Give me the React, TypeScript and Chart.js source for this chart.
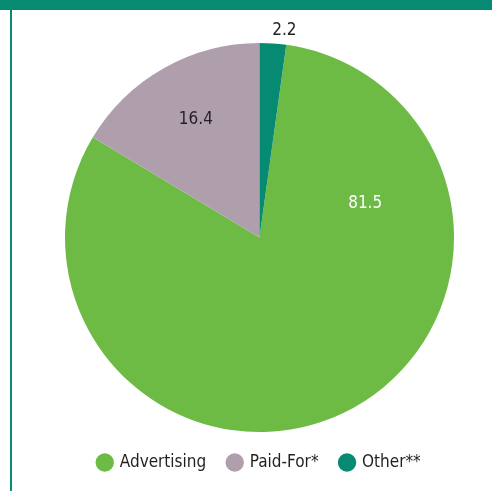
import React, { useEffect, useRef } from "react";
import { Chart, registerables } from "chart.js";

Chart.register(...registerables);

const categories = ["Advertising", "Paid-For*", "Other**"];
const values = [81.5, 16.4, 2.2];
const valueLabels = ["81.5", "16.4", "2.2"];
const colors = ["#6dbb45", "#af9fad", "#078a72"];
const labelColors = ["#ffffff", "#231f20", "#231f20"];
// label placement inside each arc: fraction along the arc, fraction of radius
const labelAlong = [0.22, 0.52, 0.87];
const labelRadius = [0.57, 0.69, 1.07];

const FONT = "'Liberation Sans Narrow', 'DejaVu Sans Condensed', 'Liberation Sans', sans-serif";

const total = values.reduce((a, b) => a + b, 0);
const startRotation = (values[2] / total) * 360;

const labelPlugin = {
  id: "sliceLabels",
  afterDatasetsDraw(chart: any) {
    const meta = chart.getDatasetMeta(0);
    const ctx = chart.ctx;
    ctx.save();
    ctx.font = `17px ${FONT}`;
    ctx.textAlign = "center";
    ctx.textBaseline = "middle";
    meta.data.forEach((arc: any, i: number) => {
      const { x, y, startAngle, endAngle, outerRadius } = arc.getProps(
        ["x", "y", "startAngle", "endAngle", "outerRadius"],
        true
      );
      const a = startAngle + (endAngle - startAngle) * labelAlong[i];
      const r = outerRadius * labelRadius[i];
      ctx.fillStyle = labelColors[i];
      ctx.fillText(valueLabels[i], x + Math.cos(a) * r, y + Math.sin(a) * r);
    });
    ctx.restore();
  },
};

export default function App() {
  const ref = useRef<HTMLCanvasElement | null>(null);
  useEffect(() => {
    if (!ref.current) return;
    const chart = new Chart(ref.current, {
      type: "pie",
      data: {
        labels: categories,
        datasets: [
          {
            data: values,
            backgroundColor: colors,
            borderWidth: 0,
          },
        ],
      },
      options: {
        animation: false,
        responsive: false,
        rotation: startRotation,
        layout: { padding: { top: 43, left: 27, right: 0, bottom: 10 } },
        plugins: {
          tooltip: { enabled: false },
          legend: {
            position: "bottom",
            labels: {
              usePointStyle: true,
              pointStyle: "circle",
              boxWidth: 13,
              boxHeight: 13,
              padding: 22,
              color: "#231f20",
              font: { size: 17, family: FONT },
            },
          },
        },
      },
      plugins: [labelPlugin],
    });
    return () => chart.destroy();
  }, []);
  return (
    <div style={{ position: "fixed", left: 0, top: 0, width: 492, height: 491, background: "#fff" }}>
      <div style={{ position: "absolute", left: 0, top: 0, width: 492, height: 10, background: "#078a72" }} />
      <div style={{ position: "absolute", left: 10, top: 0, width: 2, height: 491, background: "#078a72" }} />
      <canvas ref={ref} width={492} height={491} style={{ position: "absolute", left: 0, top: 0 }} />
    </div>
  );
}
